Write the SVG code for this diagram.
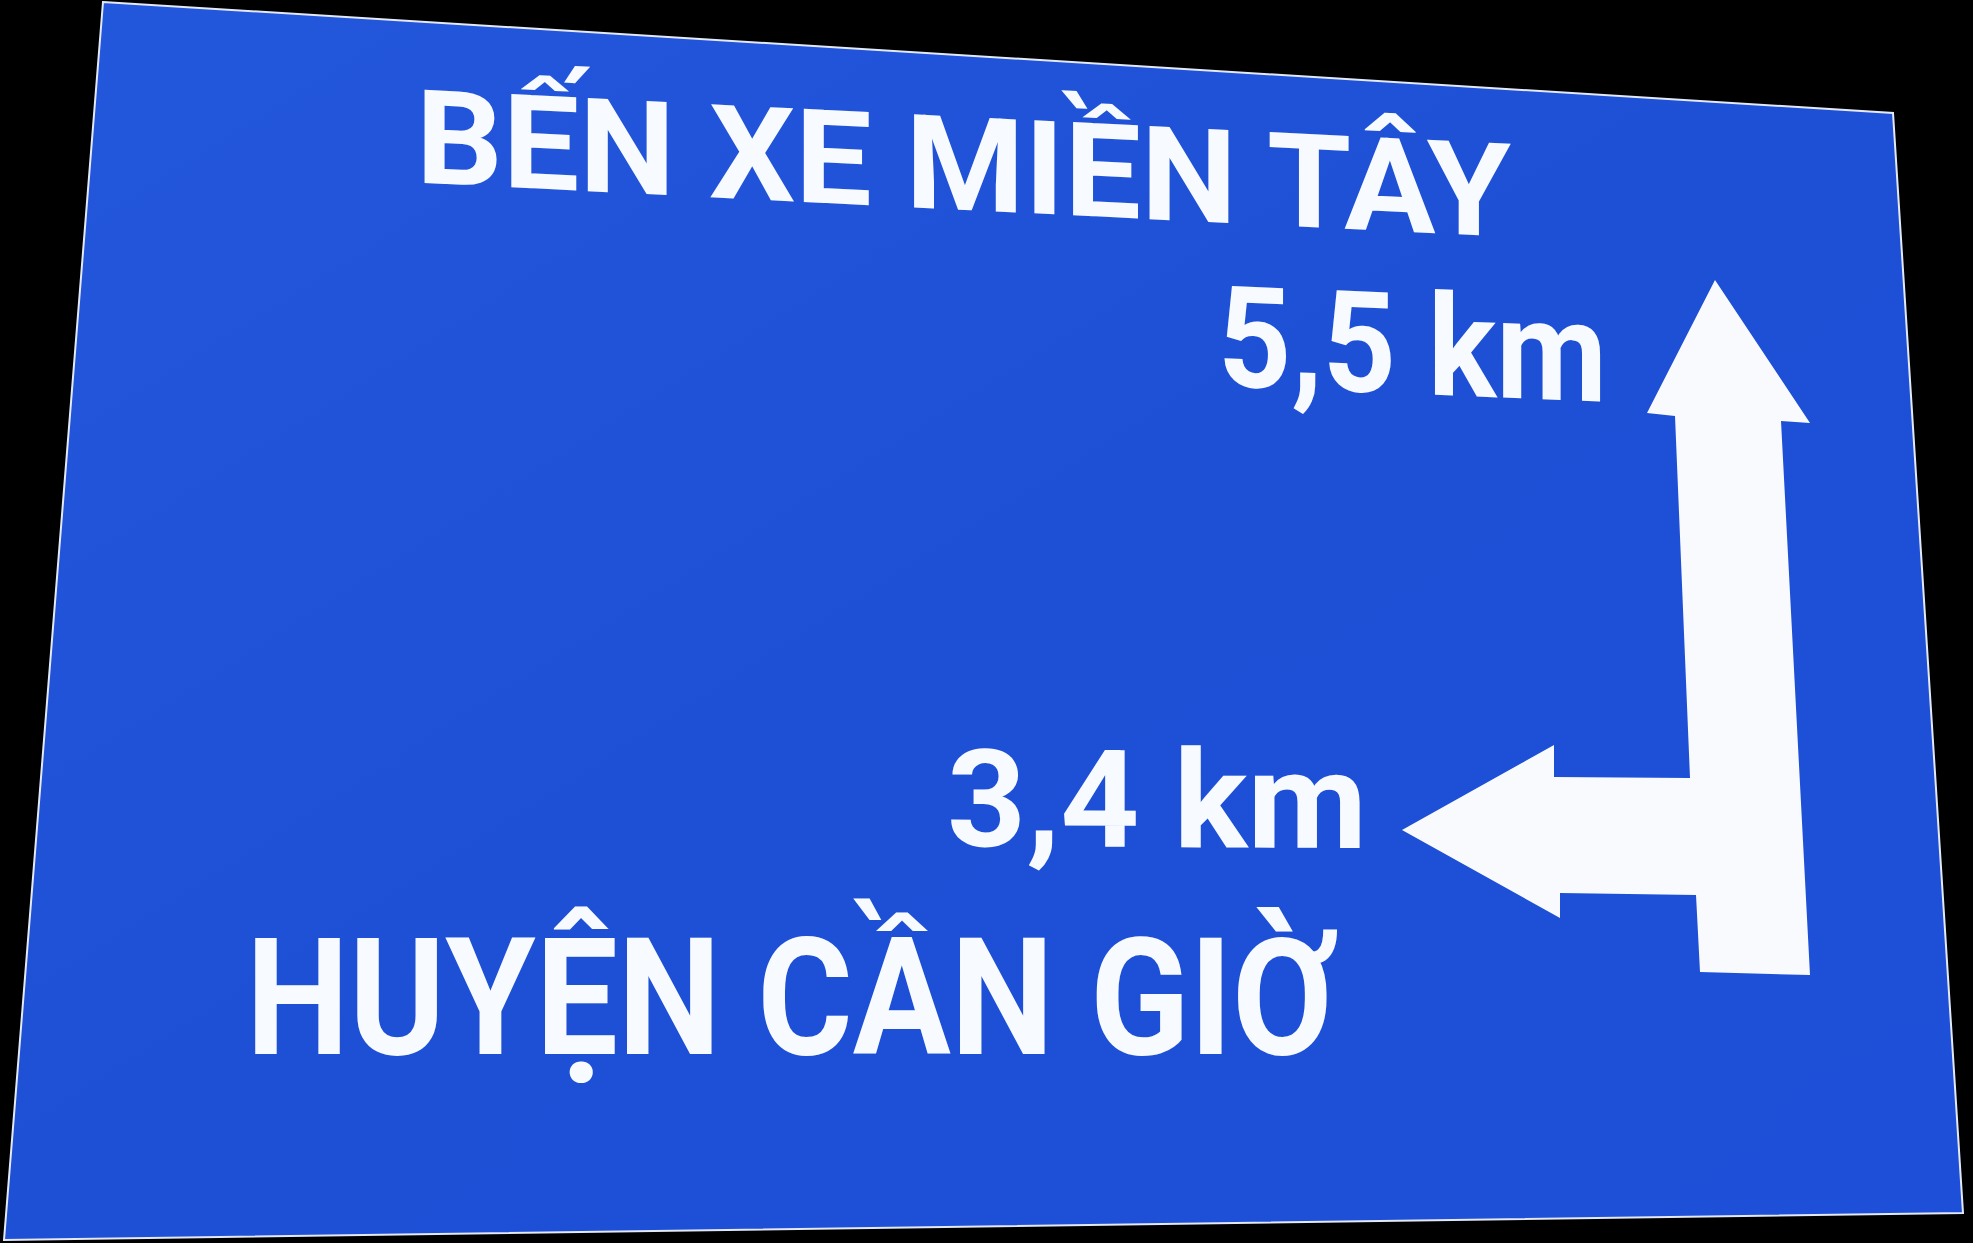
<svg xmlns="http://www.w3.org/2000/svg" width="1973" height="1243" viewBox="0 0 1973 1243">
  <defs>
    <linearGradient id="blue" x1="0" y1="0" x2="1" y2="1">
      <stop offset="0" stop-color="#2357dc"/>
      <stop offset="0.5" stop-color="#1e50d6"/>
      <stop offset="1" stop-color="#1d4fd8"/>
    </linearGradient>
  </defs>
  <style>
    .lbl { font-family: Roboto, "Liberation Sans", "DejaVu Sans", sans-serif; font-weight: 700; fill: #f7fbff; }
  </style>
  <rect id="background" x="0" y="0" width="1973" height="1243" fill="#000000"/>
  <g id="sign">
    <polygon points="103,2 1893,113 1963,1213 4,1240" fill="url(#blue)" stroke="#e4e9f7" stroke-width="2" stroke-linejoin="miter"/>
  </g>
  <g id="title">
    <text class="lbl" transform="translate(425,183) skewY(2.85)" x="-9" y="0" font-size="131" textLength="1095" lengthAdjust="spacingAndGlyphs">BẾN XE MIỀN TÂY</text>
  </g>
  <g id="dist-straight">
    <text class="lbl" transform="translate(1226,386) skewY(2.4)" x="-8" y="0" font-size="141" textLength="389" lengthAdjust="spacingAndGlyphs">5,5 km</text>
  </g>
  <g id="dist-left">
    <text class="lbl" transform="translate(954,846) skewY(0.3)" x="-7" y="0" font-size="136" textLength="420" lengthAdjust="spacingAndGlyphs">3,4 km</text>
  </g>
  <g id="destination-left">
    <text class="lbl" x="246" y="1054" font-size="163" textLength="1089" lengthAdjust="spacingAndGlyphs">HUYỆN CẦN GIỜ</text>
  </g>
  <g id="connectors">
    <polygon id="arrow" fill="#f8fafd" points="1715,280 1810,423 1781,421 1810,975 1700,972 1696,895 1560,893 1560,918 1402,830 1554,745 1554,777 1690,778 1675,416 1647,413"/>
  </g>
</svg>
